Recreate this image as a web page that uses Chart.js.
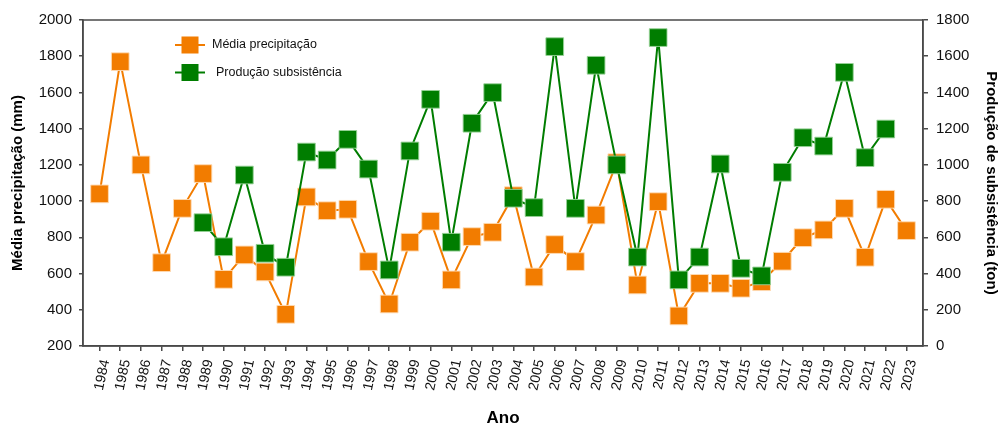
<!DOCTYPE html>
<html>
<head>
<meta charset="utf-8">
<script src="https://cdn.jsdelivr.net/npm/chart.js@4.4.1/dist/chart.umd.min.js"></script>
<style>
  html, body { margin: 0; padding: 0; background: #fff; }
  #wrap { width: 1001px; height: 425px; position: relative; }
</style>
</head>
<body>
<div id="wrap"><canvas id="chart"></canvas></div>
<script>
// Data
const years = [1984, 1985, 1986, 1987, 1988, 1989, 1990, 1991, 1992, 1993,
               1994, 1995, 1996, 1997, 1998, 1999, 2000, 2001, 2002, 2003,
               2004, 2005, 2006, 2007, 2008, 2009, 2010, 2011, 2012, 2013,
               2014, 2015, 2016, 2017, 2018, 2019, 2020, 2021, 2022, 2023];

const precipitacao = [1040, 1770, 1200, 660, 960, 1152, 568, 703, 609, 375,
                      1023, 947, 955, 666, 432, 773, 889, 565, 804, 828,
                      1030, 581, 760, 666, 923, 1212, 537, 997, 366, 546,
                      546, 519, 555, 668, 798, 841, 960, 690, 1010, 837];

const producao = [null, null, null, null, null, 681, 548, 944, 512, 435,
                  1071, 1027, 1141, 977, 420, 1077, 1362, 573, 1230, 1399,
                  816, 764, 1653, 760, 1550, 1000, 491, 1703, 365, 491,
                  1005, 429, 387, 959, 1150, 1104, 1511, 1040, 1198, null];

const leftTicks = [200, 400, 600, 800, 1000, 1200, 1400, 1600, 1800, 2000];
const rightTicks = [0, 200, 400, 600, 800, 1000, 1200, 1400, 1600, 1800];

const ORANGE = '#F27C00';
const GREEN = '#007D00';
const AXIS = '#4a4a4a';
const FONT = '"Liberation Sans", Arial, sans-serif';

const legendItems = [
  { text: 'Média precipitação', color: ORANGE, y: 45, tx: 212 },
  { text: 'Produção subsistência', color: GREEN, y: 72.5, tx: 216 }
];

// frame around the plot area + legend inside it
const framePlugin = {
  id: 'frame',
  beforeDatasetsDraw(chart) {
    const { ctx, chartArea: a } = chart;
    ctx.save();
    ctx.strokeStyle = AXIS;
    ctx.lineWidth = 1.5;
    ctx.strokeRect(a.left, a.top, a.right - a.left, a.bottom - a.top);
    ctx.restore();
  },
  afterDraw(chart) {
    const ctx = chart.ctx;
    ctx.save();
    legendItems.forEach(it => {
      ctx.strokeStyle = it.color;
      ctx.lineWidth = 2;
      ctx.beginPath();
      ctx.moveTo(175, it.y);
      ctx.lineTo(205, it.y);
      ctx.stroke();
      ctx.fillStyle = it.color;
      ctx.fillRect(181.5, it.y - 8.5, 17, 17);
      ctx.fillStyle = '#111';
      ctx.font = '12.5px ' + FONT;
      ctx.textBaseline = 'middle';
      ctx.textAlign = 'left';
      ctx.fillText(it.text, it.tx, it.y);
    });
    ctx.restore();
  }
};

const ctx = document.getElementById('chart').getContext('2d');
new Chart(ctx, {
  type: 'line',
  data: {
    datasets: [{
      label: 'Média precipitação',
      data: years.map((y, i) => ({ x: y, y: precipitacao[i] })),
      yAxisID: 'y',
      borderColor: ORANGE,
      backgroundColor: ORANGE,
      borderWidth: 2,
      pointStyle: 'rect',
      pointRadius: 12.5,
      pointBorderColor: 'rgba(255,220,180,0.9)',
      pointBorderWidth: 1,
      order: 1
    }, {
      label: 'Produção subsistência',
      data: years.map((y, i) => ({ x: y, y: producao[i] })),
      yAxisID: 'y1',
      borderColor: GREEN,
      backgroundColor: GREEN,
      borderWidth: 2,
      pointStyle: 'rect',
      pointRadius: 12.5,
      pointBorderColor: 'rgba(150,210,150,0.9)',
      pointBorderWidth: 1,
      order: 0
    }]
  },
  options: {
    responsive: true,
    maintainAspectRatio: false,
    animation: false,
    layout: { padding: { top: 20, left: 0, right: 0, bottom: 0 } },
    plugins: {
      legend: { display: false },
      tooltip: { enabled: false }
    },
    scales: {
      x: {
        type: 'linear',
        min: 1983.2,
        max: 2023.8,
        afterBuildTicks: (s) => { s.ticks = years.map(v => ({ value: v })); },
        afterFit: (s) => { s.height = 79; },
        grid: { drawOnChartArea: false, drawTicks: true, tickLength: 5, color: AXIS, lineWidth: 1.5 },
        border: { display: true, color: AXIS, width: 1.5 },
        ticks: {
          autoSkip: false,
          minRotation: 78,
          maxRotation: 78,
          padding: 7,
          labelOffset: 6,
          color: '#111',
          font: { family: FONT, size: 14 },
          callback: (v) => String(v)
        },
        title: {
          display: true,
          text: 'Ano',
          color: '#000',
          font: { family: FONT, size: 17, weight: 'bold', lineHeight: 1 },
          padding: { top: 0, bottom: -2 }
        }
      },
      y: {
        position: 'left',
        min: 200,
        max: 2000,
        afterBuildTicks: (s) => { s.ticks = leftTicks.map(v => ({ value: v })); },
        afterFit: (s) => { s.width = 83; },
        grid: { drawOnChartArea: false, drawTicks: true, tickLength: 4, color: AXIS, lineWidth: 1.5 },
        border: { display: true, color: AXIS, width: 1.5 },
        ticks: {
          padding: 7,
          color: '#111',
          font: { family: FONT, size: 15 },
          callback: (v) => String(v)
        },
        title: {
          display: true,
          text: 'Média precipitação (mm)',
          color: '#000',
          font: { family: FONT, size: 15, weight: 'bold', lineHeight: 1 },
          padding: { top: 10, bottom: 0 }
        }
      },
      y1: {
        position: 'right',
        min: 0,
        max: 1800,
        afterBuildTicks: (s) => { s.ticks = rightTicks.map(v => ({ value: v })); },
        afterFit: (s) => { s.width = 78; },
        grid: { drawOnChartArea: false, drawTicks: true, tickLength: 5, color: AXIS, lineWidth: 1.5 },
        border: { display: true, color: AXIS, width: 1.5 },
        ticks: {
          padding: 8,
          color: '#111',
          font: { family: FONT, size: 15 },
          callback: (v) => String(v)
        },
        title: {
          display: true,
          text: 'Produção de subsistência (ton)',
          color: '#000',
          font: { family: FONT, size: 15, weight: 'bold', lineHeight: 1 },
          padding: { top: 2.5, bottom: 0 }
        }
      }
    }
  },
  plugins: [framePlugin]
});
</script>
</body>
</html>
